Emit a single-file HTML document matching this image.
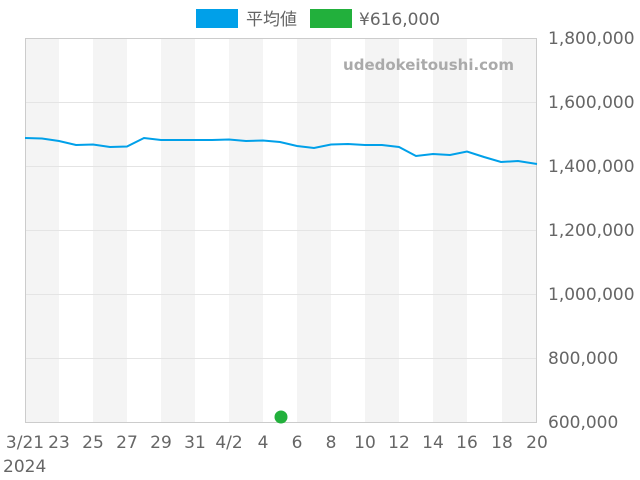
<!DOCTYPE html>
<html><head><meta charset="utf-8"><style>
html,body{margin:0;padding:0;background:#fff;}
svg{display:block;font-family:"DejaVu Sans","Noto Sans CJK JP",sans-serif;}
</style></head><body>
<svg width="640" height="480" viewBox="0 0 640 480">
<g fill="#f4f4f4">
<rect x="25" y="38" width="34" height="384"/><rect x="93" y="38" width="34" height="384"/>
<rect x="161" y="38" width="34" height="384"/><rect x="229" y="38" width="34" height="384"/>
<rect x="297" y="38" width="34" height="384"/><rect x="365" y="38" width="34" height="384"/>
<rect x="433" y="38" width="34" height="384"/><rect x="502" y="38" width="35" height="384"/>
</g>
<g stroke="#e4e4e4" stroke-width="1">
<line x1="25" y1="102.5" x2="537" y2="102.5"/><line x1="25" y1="166.5" x2="537" y2="166.5"/>
<line x1="25" y1="230.5" x2="537" y2="230.5"/><line x1="25" y1="294.5" x2="537" y2="294.5"/>
<line x1="25" y1="358.5" x2="537" y2="358.5"/>
</g>
<rect x="25.5" y="38.5" width="511" height="384" fill="none" stroke="#ccc"/>
<polyline fill="none" stroke="#00a0e9" stroke-width="2" points="25,138 42,138.5 59,141 76,145 93,144.5 110,147 127,146.5 144,138 161,140 178,140 195,140 212,140 229,139.5 246,141 263,140.5 280,142 297,146 314,148 331,144.5 348,144 365,145 382,145 399,147 416,156 433,154 450,155 467,151.5 484,157 501,162 518,161 537,164"/>
<circle cx="281" cy="417" r="6.5" fill="#22b03c"/>
<text x="514" y="70" text-anchor="end" font-size="15" font-weight="bold" fill="#aaa">udedokeitoushi.com</text>
<g font-size="17" fill="#666">
<text x="548" y="44">1,800,000</text><text x="548" y="108">1,600,000</text>
<text x="548" y="172">1,400,000</text><text x="548" y="236">1,200,000</text>
<text x="548" y="300">1,000,000</text><text x="548" y="364">800,000</text>
<text x="548" y="428">600,000</text>
</g>
<g font-size="17" fill="#666" text-anchor="middle">
<text x="25" y="448">3/21</text><text x="59" y="448">23</text><text x="93" y="448">25</text>
<text x="127" y="448">27</text><text x="161" y="448">29</text><text x="195" y="448">31</text>
<text x="229" y="448">4/2</text><text x="263" y="448">4</text><text x="297" y="448">6</text>
<text x="331" y="448">8</text><text x="365" y="448">10</text><text x="399" y="448">12</text>
<text x="433" y="448">14</text><text x="467" y="448">16</text><text x="502" y="448">18</text>
<text x="537" y="448">20</text>
</g>
<text x="3" y="472" font-size="17" fill="#666">2024</text>
<rect x="196" y="9" width="42" height="19" fill="#00a0e9"/>
<text x="246" y="25" font-size="17" fill="#666">平均値</text>
<rect x="310" y="9" width="42" height="19" fill="#22b03c"/>
<text x="359" y="25" font-size="17" fill="#666">¥616,000</text>
</svg>
</body></html>
